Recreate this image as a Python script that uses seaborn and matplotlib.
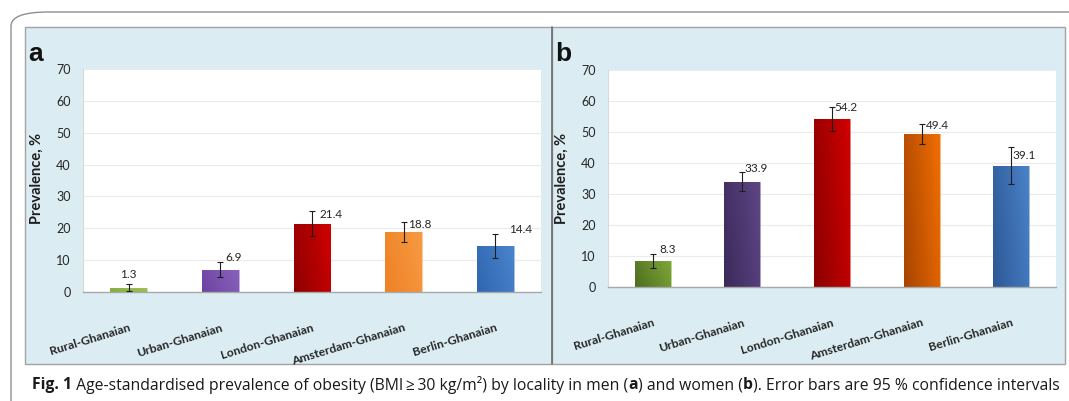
import numpy as np
import matplotlib
matplotlib.use("Agg")
import matplotlib.pyplot as plt
import matplotlib.colors as mcolors
from matplotlib.patches import Rectangle, FancyBboxPatch
import seaborn as sns

# ---- data -------------------------------------------------------------
categories = ["Rural-Ghanaian", "Urban-Ghanaian", "London-Ghanaian",
              "Amsterdam-Ghanaian", "Berlin-Ghanaian"]

men_prev = [1.3, 6.9, 21.4, 18.8, 14.4]
men_ci_low = [0.4, 4.6, 17.6, 15.6, 10.6]
men_ci_high = [2.6, 9.4, 25.4, 22.0, 18.3]

women_prev = [8.3, 33.9, 54.2, 49.4, 39.1]
women_ci_low = [6.1, 31.0, 50.4, 46.1, 33.1]
women_ci_high = [10.5, 37.0, 58.0, 52.6, 45.3]

y_ticks = [0, 10, 20, 30, 40, 50, 60, 70]

# ---- style ------------------------------------------------------------
sns.set_style("white")
plt.rcParams["font.family"] = ["Lato", "DejaVu Sans"]

# (dark, light) gradient ends for each bar
men_colors = [("#82ab3c", "#9fc45a"), ("#6c43a0", "#8a62bd"),
              ("#8c0000", "#d20000"), ("#ee8125", "#f79a42"),
              ("#2f66b0", "#4a84cc")]
women_colors = [("#4e6d20", "#7ea638"), ("#3b2a5a", "#5f4585"),
                ("#8a0000", "#d00000"), ("#a84400", "#f06e00"),
                ("#2c5896", "#4a82c8")]

# value-label offsets from the top of each error bar, in pixels (dx, dy, ha)
men_label_off = [(0, 9, "center"), (5, 5, "left"), (8, -3, "left"),
                 (4, -3, "left"), (14, 4, "left")]
women_label_off = [(7, 5, "left"), (2, 4, "left"), (2, 0, "left"),
                   (4, -2, "left"), (1, -9, "left")]

W, H = 1069, 401
fig = plt.figure(figsize=(W / 100, H / 100), dpi=100)
fig.patch.set_facecolor("white")


def px_rect(x0, y0, x1, y1):
    """Figure-fraction rectangle from pixel coords (top-left origin)."""
    return [x0 / W, 1 - y1 / H, (x1 - x0) / W, (y1 - y0) / H]


# outer rounded frame
frame = FancyBboxPatch((11 / W, -0.2), 1.2, 389 / H + 0.2,
                       boxstyle="round,pad=0,rounding_size=0.035",
                       transform=fig.transFigure, facecolor="none",
                       edgecolor="#8f8f8f", linewidth=1.0, zorder=-3)
fig.patches.append(frame)

# light-blue panel backgrounds
panel_bg = "#dbedf3"
for (x0, x1) in [(25, 552), (552, 1065)]:
    r = px_rect(x0, 27, x1, 364)
    fig.patches.append(Rectangle((r[0], r[1]), r[2], r[3],
                                 transform=fig.transFigure,
                                 facecolor=panel_bg, edgecolor="#a3a3a3",
                                 linewidth=1.0, zorder=-2))
fig.lines.append(plt.Line2D([552 / W, 552 / W], [1 - 364 / H, 1 - 27 / H],
                            transform=fig.transFigure, color="#6e6e6e",
                            linewidth=1.2, zorder=-1))


def gradient_fill(ax, patch, dark, light):
    x, y = patch.get_x(), patch.get_y()
    w, h = patch.get_width(), patch.get_height()
    cmap = mcolors.LinearSegmentedColormap.from_list("g", [dark, light])
    gx = np.linspace(0, 1, 64)[None, :]
    gy = np.linspace(0, 1, 64)[:, None]
    grad = 0.75 * gx + 0.25 * (1 - gy)
    im = ax.imshow(grad, cmap=cmap, extent=(x, x + w, y, y + h),
                   origin="upper", aspect="auto", zorder=2,
                   interpolation="bilinear")
    im.set_clip_path(patch)
    patch.set_facecolor("none")
    patch.set_edgecolor(mcolors.to_rgba(light, 0.6))
    patch.set_linewidth(0.6)


def draw_panel(rect, letter, letter_xy, ylabel_x, prev, lo, hi, colors, offs):
    ax = fig.add_axes(rect)
    sns.barplot(x=categories, y=prev, hue=categories, legend=False,
                palette=[c[1] for c in colors], width=0.4, ax=ax,
                saturation=1, zorder=2)
    for p, c in zip(ax.patches, colors):
        gradient_fill(ax, p, c[0], c[1])
    xs = np.arange(len(categories))
    yerr = [np.array(prev) - np.array(lo), np.array(hi) - np.array(prev)]
    ax.errorbar(xs, prev, yerr=yerr, fmt="none", ecolor="#1e1e1e",
                elinewidth=0.8, capsize=2.5, capthick=0.8, zorder=4)
    for xi, v, top, (dx, dy, ha) in zip(xs, prev, hi, offs):
        ax.annotate(f"{v:.1f}", (xi, top), xytext=(dx, dy),
                    textcoords="offset pixels", ha=ha, va="center",
                    fontsize=8.5, color="#262626", zorder=5)

    ax.set_xlim(-0.5, len(categories) - 0.5)
    ax.set_ylim(0, 70)
    ax.set_yticks(y_ticks)
    ax.set_yticklabels([str(t) for t in y_ticks], fontsize=9, color="#262626")
    ax.set_facecolor("white")
    ax.yaxis.grid(True, color="#ebebeb", linewidth=0.8, zorder=0)
    ax.set_axisbelow(True)
    for s in ["top", "right"]:
        ax.spines[s].set_visible(False)
    ax.spines["left"].set_color("#d9d9d9")
    ax.spines["bottom"].set_color("#a8a8a8")
    ax.spines["bottom"].set_linewidth(1.0)
    ax.tick_params(axis="y", length=3, color="#bfbfbf", pad=6)
    ax.tick_params(axis="x", length=0, pad=3)
    ax.set_xticks(xs)
    ax.set_xticklabels(categories, rotation=17, ha="right",
                       rotation_mode="anchor", fontsize=8.7,
                       fontweight="bold", color="#262626")
    for lab in ax.get_xticklabels():
        lab.set_transform(lab.get_transform() +
                          matplotlib.transforms.ScaledTranslation(
                              0.0, -0.26, fig.dpi_scale_trans))
    ax.set_xlabel("")
    ax.set_ylabel("")
    fig.text(ylabel_x / W, 1 - 178 / H, "Prevalence, %", rotation=90,
             ha="center", va="center", fontsize=10.5, fontweight="bold",
             color="#1e1e1e")
    fig.text(letter_xy[0] / W, 1 - letter_xy[1] / H, letter,
             family=["Liberation Sans", "DejaVu Sans"], fontsize=19,
             fontweight="bold", ha="left", va="baseline", color="#111111")
    return ax


draw_panel(px_rect(83, 69, 541, 292), "a", (28, 61), 37,
           men_prev, men_ci_low, men_ci_high, men_colors, men_label_off)
draw_panel(px_rect(608, 70, 1056, 287), "b", (555, 61), 562,
           women_prev, women_ci_low, women_ci_high, women_colors,
           women_label_off)

# caption with bold runs
caption = [("Fig. 1", "bold"), (" Age-standardised prevalence of obesity "
           "(BMI\u2009\u2265\u200930 kg/m\u00b2) by locality in men (", "normal"),
           ("a", "bold"), (") and women (", "normal"), ("b", "bold"),
           ("). Error bars are 95 % confidence intervals", "normal")]
fig.canvas.draw()
renderer = fig.canvas.get_renderer()
x = 32 / W
for txt, wt in caption:
    t = fig.text(x, 1 - 385 / H, txt, fontsize=11.3, fontweight=wt,
                 family=["Open Sans", "DejaVu Sans"], ha="left",
                 va="center", color="#1a1a1a")
    bb = t.get_window_extent(renderer=renderer)
    x += bb.width / W

fig.savefig("out.png", dpi=100)
